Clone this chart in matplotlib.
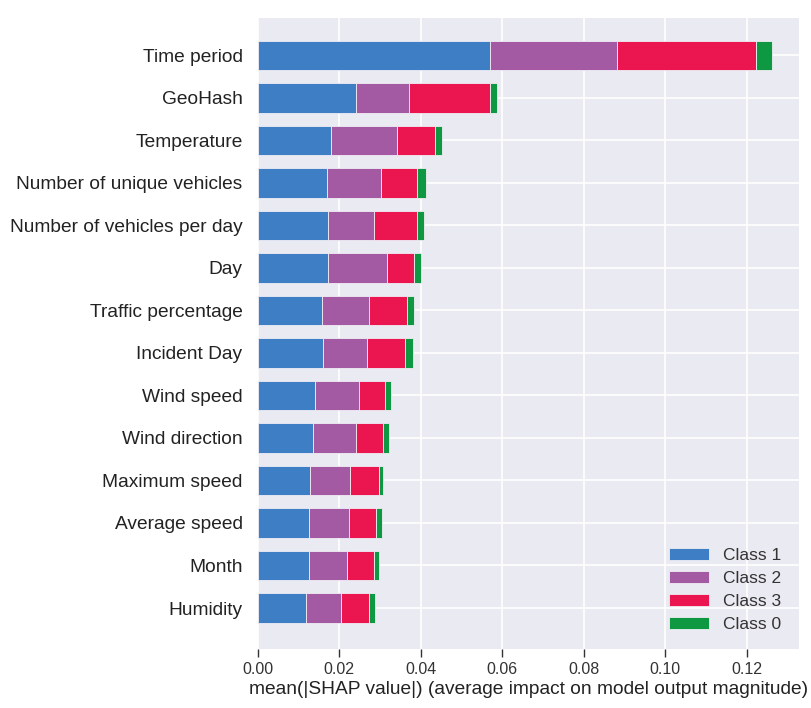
import matplotlib.pyplot as plt
import numpy as np

features = ["Time period", "GeoHash", "Temperature", "Number of unique vehicles",
            "Number of vehicles per day", "Day", "Traffic percentage", "Incident Day",
            "Wind speed", "Wind direction", "Maximum speed", "Average speed",
            "Month", "Humidity"]

class1 = [0.0569, 0.0241, 0.0179, 0.0169, 0.0171, 0.0173, 0.0158, 0.0161,
          0.0140, 0.0136, 0.0129, 0.0126, 0.0126, 0.0118]
class2 = [0.0312, 0.0130, 0.0162, 0.0133, 0.0114, 0.0144, 0.0115, 0.0108,
          0.0108, 0.0105, 0.0098, 0.0098, 0.0093, 0.0087]
class3 = [0.0342, 0.0198, 0.0093, 0.0089, 0.0106, 0.0067, 0.0093, 0.0093,
          0.0064, 0.0065, 0.0071, 0.0067, 0.0066, 0.0067]
class0 = [0.0039, 0.0019, 0.0018, 0.0021, 0.0016, 0.0017, 0.0017, 0.0018,
          0.0014, 0.0016, 0.0010, 0.0013, 0.0013, 0.0015]

series = [("Class 1", class1, "#3d7ec4"),
          ("Class 2", class2, "#a45aa3"),
          ("Class 3", class3, "#eb1550"),
          ("Class 0", class0, "#0f9842")]

plt.rcParams['font.family'] = ['Liberation Sans', 'DejaVu Sans']

fig = plt.figure(figsize=(8.11, 7.08), dpi=100)
ax = fig.add_axes([0.318, 0.0833, 0.667, 0.8913])
ax.set_facecolor("#eaeaf2")
for s in ax.spines.values():
    s.set_visible(False)

n = len(features)
ypos = np.arange(n)[::-1]
left = np.zeros(n)
for name, vals, col in series:
    vals = np.array(vals)
    ax.barh(ypos, vals, height=0.7, left=left, color=col, label=name,
            edgecolor="#f0eef5", linewidth=0.6, zorder=3)
    left = left + vals

ax.set_yticks(ypos)
ax.set_yticklabels(features, fontsize=13.8, color="#222222")
ax.set_xlim(0, 0.1328)
ax.set_ylim(-0.965, 13.88)
ax.set_xticks(np.arange(0, 0.13, 0.02))
ax.set_xticklabels(["%.2f" % v for v in np.arange(0, 0.13, 0.02)])
ax.tick_params(axis='x', labelsize=11.5, colors="#333333", length=6, width=1, direction='out')
ax.tick_params(axis='y', length=0, pad=11)
ax.grid(True, color="white", linewidth=1.2, zorder=0)
ax.set_axisbelow(True)
ax.set_xlabel("mean(|SHAP value|) (average impact on model output magnitude)",
              fontsize=13.8, color="#222222", labelpad=3)

ax.legend(loc="lower right", frameon=False, fontsize=12.5, handlelength=2.3,
          labelspacing=0.45, borderaxespad=0.6, labelcolor="#333333")

fig.savefig("out.png", dpi=100)
